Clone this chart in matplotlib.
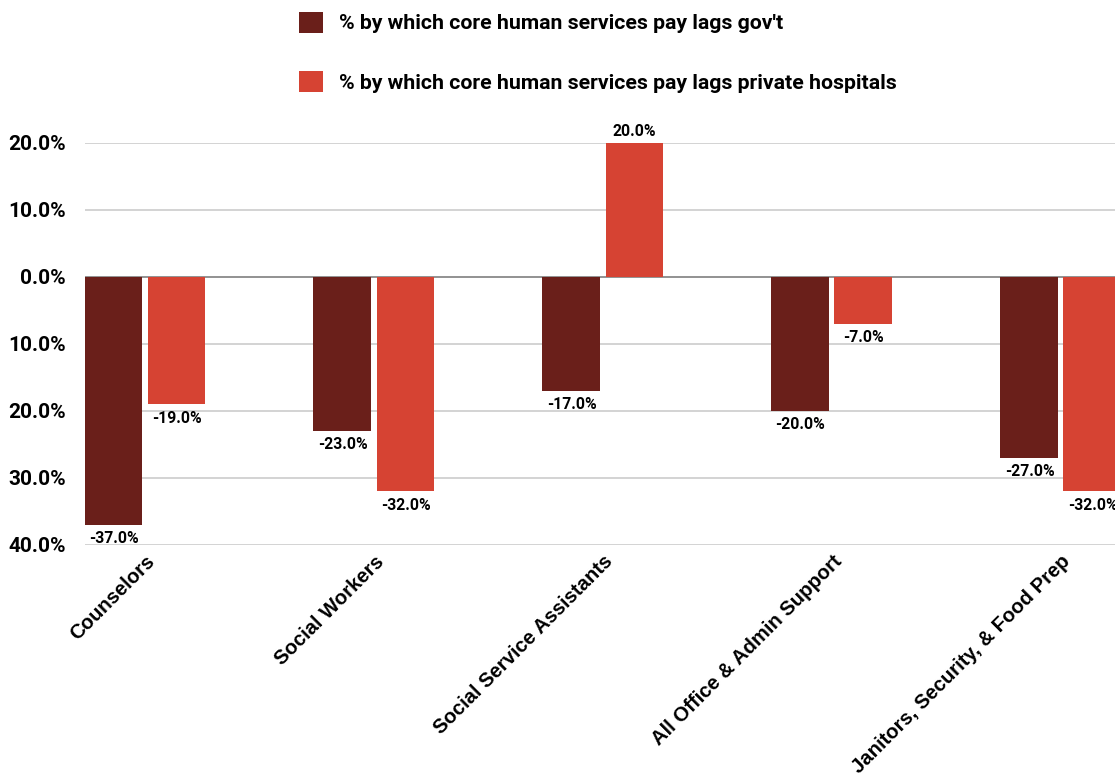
import matplotlib
matplotlib.use("Agg")
import matplotlib.pyplot as plt
import numpy as np
from matplotlib.ticker import FuncFormatter

plt.rcParams['font.family'] = ['Roboto', 'DejaVu Sans']

categories = ["Counselors", "Social Workers", "Social Service Assistants",
              "All Office & Admin Support", "Janitors, Security, & Food Prep"]
lag_gov = [-37.0, -23.0, -17.0, -20.0, -27.0]
lag_private = [-19.0, -32.0, 20.0, -7.0, -32.0]
series_names = ["% by which core human services pay lags gov't",
                "% by which core human services pay lags private hospitals"]
y_ticks = [-40, -30, -20, -10, 0, 10, 20]

dark_red = "#6A1F1A"
light_red = "#D64333"

fig = plt.figure(figsize=(11.15, 7.83), dpi=100)
ax = fig.add_axes([0.0762, 0.304, 0.9238, 0.5134])

x = np.arange(len(categories))
width = 0.253
offset = 0.1376

bars1 = ax.bar(x - offset, lag_gov, width, color=dark_red, label=series_names[0], zorder=3)
bars2 = ax.bar(x + offset, lag_private, width, color=light_red, label=series_names[1], zorder=3)

for bars, vals in ((bars1, lag_gov), (bars2, lag_private)):
    for b, v in zip(bars, vals):
        cx = b.get_x() + b.get_width() / 2
        if v < 0:
            ax.annotate(f"{v:.1f}%", (cx, v), xytext=(0, -4.5), textcoords="offset points",
                        ha="center", va="top", fontsize=11.3, fontweight="bold", zorder=4)
        else:
            ax.annotate(f"{v:.1f}%", (cx, v), xytext=(0, 3), textcoords="offset points",
                        ha="center", va="bottom", fontsize=11.3, fontweight="bold", zorder=4)

ax.set_ylim(-40, 20)
ax.set_xlim(-0.262, 4.236)
ax.set_yticks(y_ticks)
ax.yaxis.set_major_formatter(FuncFormatter(lambda v, p: f"{abs(v):.1f}%"))
ax.grid(axis="y", color="#CCCCCC", linewidth=1.2, zorder=0)
ax.axhline(0, color="#888888", linewidth=1.2, zorder=2)
for s in ax.spines.values():
    s.set_visible(False)
ax.tick_params(axis="y", length=0, pad=14, labelsize=15)
ax.tick_params(axis="x", length=0, pad=5)
ax.set_xticks(x)
ax.set_xticklabels(categories, rotation=45, ha="right", rotation_mode="anchor",
                   fontsize=14.6, fontweight="bold",
                   family=["Liberation Sans", "DejaVu Sans"])
for lbl in ax.get_yticklabels():
    lbl.set_fontweight("bold")

fig.legend(handles=[bars1, bars2], labels=series_names, loc="upper left",
           bbox_to_anchor=(0.258, 1.0), frameon=False,
           prop={"weight": "bold", "size": 15.3},
           handlelength=1.13, handleheight=1.13, labelspacing=1.78,
           handletextpad=0.75, borderaxespad=0.15)

fig.savefig("out.png", dpi=100, facecolor="white")
